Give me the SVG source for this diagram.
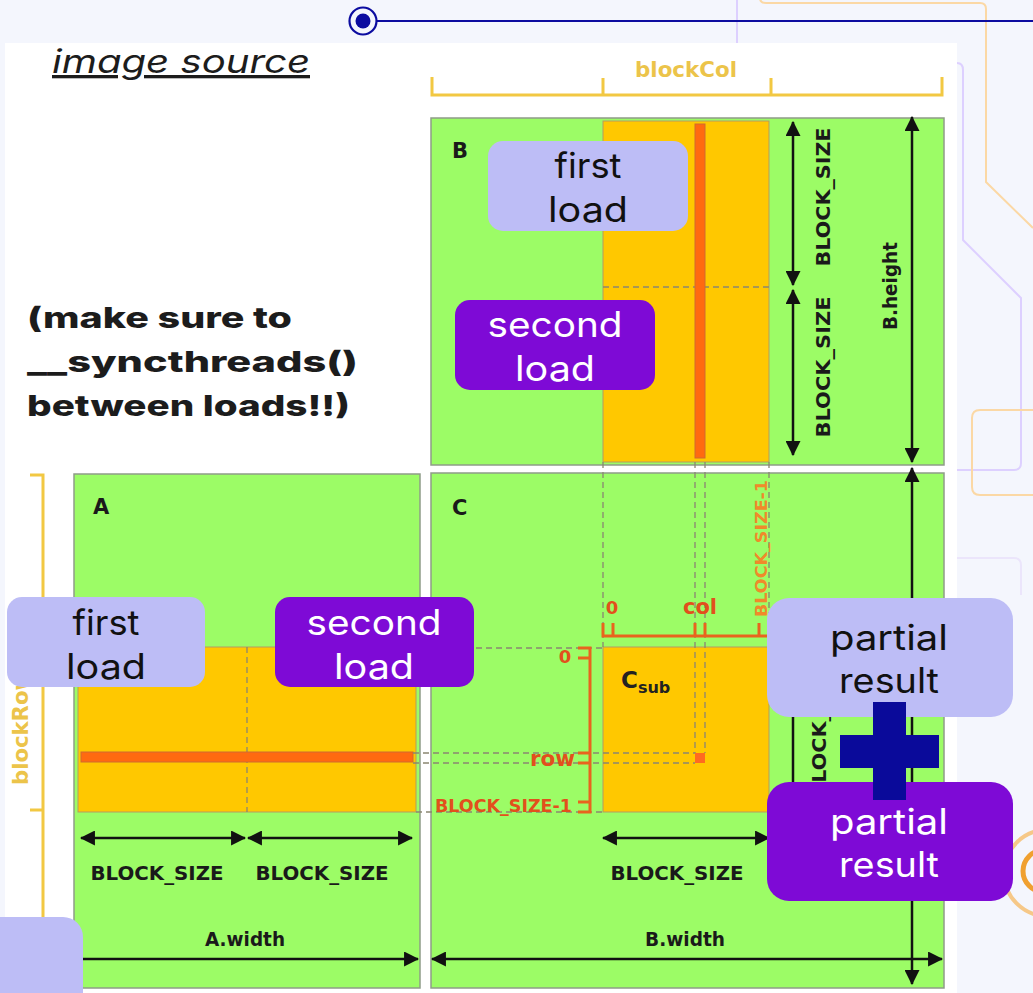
<svg xmlns="http://www.w3.org/2000/svg" width="1033" height="993" viewBox="0 0 1033 993">
  <defs>
    <style>
      .mat { fill: #9cfc66; stroke: #8f9c88; stroke-width: 1.5; }
      .blk { fill: #ffc800; stroke: #b59a62; stroke-width: 1; }
      .bar { fill: #ff6a10; stroke: #cf6a30; stroke-width: 1; }
      .dash { fill: none; stroke: #8a8672; stroke-width: 1.3; stroke-dasharray: 6 4; }
      .arr { fill: none; stroke: #111; stroke-width: 2.5; marker-start: url(#tip); marker-end: url(#tip); }
      .obr { fill: none; stroke: #e8641e; stroke-width: 3; }
      .ybr { fill: none; stroke: #f2c842; stroke-width: 3; }
      .lbl { font-family: "DejaVu Sans", sans-serif; font-weight: bold; font-size: 19px; fill: #1a1a1a; }
      .mname { font-size: 21px; }
      .olbl { font-family: "DejaVu Sans", sans-serif; font-weight: bold; fill: #e2501c; }
      .ylbl { font-family: "DejaVu Sans", sans-serif; font-weight: bold; font-size: 21px; fill: #ecc44a; }
      .note { font-family: Inter, "Open Sans", sans-serif; font-size: 35px; text-anchor: middle; }
      .light { fill: #bdbdf6; }
      .purple { fill: #7e0ad6; }
      .deco-o { fill: none; stroke: #fbd8a5; stroke-width: 2; }
      .deco-l { fill: none; stroke: #ddd0ff; stroke-width: 2; }
    </style>
    <marker id="tip" viewBox="0 0 14 14" refX="13" refY="7" markerWidth="15" markerHeight="15" orient="auto-start-reverse" markerUnits="userSpaceOnUse">
      <path d="M0,0 L14,7 L0,14 z" fill="#111"/>
    </marker>
  </defs>

  <!-- page background and decorative lines -->
  <rect x="0" y="0" width="1033" height="993" fill="#f4f6fd"/>
  <g id="decoration">
    <line x1="737" y1="0" x2="737" y2="50" class="deco-l"/>
    <path d="M760,-10 L760,-2 Q760,3 766,3 L980,3 Q986,3 986,9 L986,182 L1033,228" class="deco-o"/>
    <path d="M957,63 Q963,63 963,70 L963,240 L1021,298 L1021,463 Q1021,470 1014,470 L957,470" class="deco-l"/>
    <path d="M957,558 L1014,558 Q1021,558 1021,565 L1021,595" fill="none" stroke="#ebe5fb" stroke-width="2"/>
    <path d="M1040,410 L980,410 Q972,410 972,418 L972,487 Q972,495 980,495 L1040,495" class="deco-o"/>
    <circle cx="1047" cy="873" r="43" fill="none" stroke="#f6c888" stroke-width="4"/>
    <circle cx="1044" cy="871" r="21" fill="none" stroke="#f0a030" stroke-width="5"/>
    <line x1="376" y1="21" x2="1033" y2="21" stroke="#0c0ca0" stroke-width="2"/>
    <circle cx="363" cy="21" r="13.5" fill="#f4f6fd" stroke="#0c0ca0" stroke-width="2.2"/>
    <circle cx="363" cy="21" r="7.5" fill="#0c0ca0"/>
  </g>

  <!-- white panel -->
  <rect x="5" y="43" width="952" height="960" fill="#ffffff"/>

  <g id="caption">
    <text x="52" y="73" font-family="Inter, 'Open Sans', sans-serif" font-style="italic" font-size="33" fill="#1c1c1c" text-decoration="underline" textLength="258" lengthAdjust="spacingAndGlyphs">image source</text>
    <g font-family="Inter, 'Open Sans', sans-serif" font-weight="800" font-size="29" fill="#1c1c1c">
      <text x="27" y="328" textLength="265" lengthAdjust="spacingAndGlyphs">(make sure to</text>
      <text x="27" y="372" textLength="331" lengthAdjust="spacingAndGlyphs">__syncthreads()</text>
      <text x="27" y="416" textLength="323" lengthAdjust="spacingAndGlyphs">between loads!!)</text>
    </g>
  </g>

  <!-- block index brackets -->
  <g id="blockCol">
    <path d="M432,77 L432,95 L942,95 L942,77 M603,78 L603,95 M771,78 L771,95" class="ybr"/>
    <text x="686" y="77" class="ylbl" text-anchor="middle" textLength="102" lengthAdjust="spacingAndGlyphs">blockCol</text>
  </g>
  <g id="blockRow">
    <path d="M30,475 L43,475 L43,1000 M30,810 L43,810" class="ybr"/>
    <text transform="translate(28,785) rotate(-90)" class="ylbl" textLength="114" lengthAdjust="spacingAndGlyphs">blockRow</text>
  </g>

  <!-- matrix B -->
  <g id="matrix-B">
    <rect x="431" y="118" width="513" height="347" class="mat"/>
    <rect x="603" y="121" width="166" height="341" class="blk"/>
    <line x1="603" y1="287" x2="769" y2="287" class="dash"/>
    <rect x="695" y="124" width="10" height="334" class="bar"/>
    <text x="452" y="158" class="lbl mname">B</text>
  </g>

  <!-- matrix A -->
  <g id="matrix-A">
    <rect x="74" y="474" width="346" height="514" class="mat"/>
    <rect x="78" y="647" width="338" height="165" class="blk"/>
    <line x1="247" y1="647" x2="247" y2="812" class="dash"/>
    <rect x="81" y="752" width="332" height="10" class="bar"/>
    <text x="93" y="514" class="lbl mname">A</text>
  </g>

  <!-- matrix C -->
  <g id="matrix-C">
    <rect x="431" y="473" width="513" height="515" class="mat"/>
    <rect x="603" y="647" width="166" height="165" class="blk"/>
    <rect x="695" y="753" width="10" height="10" fill="#ff6a20"/>
    <text x="452" y="515" class="lbl mname">C</text>
    <text x="621" y="688" font-family="'DejaVu Sans', sans-serif" font-weight="bold" font-size="23" fill="#222">C<tspan font-size="16" dy="5">sub</tspan></text>
  </g>

  <!-- projections of the tiles across the matrices -->
  <g id="guides">
    <line x1="603" y1="462" x2="603" y2="647" class="dash"/>
    <line x1="695" y1="462" x2="695" y2="753" class="dash"/>
    <line x1="705" y1="462" x2="705" y2="753" class="dash"/>
    <line x1="769" y1="462" x2="769" y2="636" class="dash"/>
    <line x1="416" y1="648" x2="603" y2="648" class="dash"/>
    <line x1="413" y1="753" x2="695" y2="753" class="dash"/>
    <line x1="413" y1="763" x2="695" y2="763" class="dash"/>
    <line x1="416" y1="812" x2="603" y2="812" class="dash"/>
  </g>

  <!-- thread index brackets inside C -->
  <g id="thread-index">
    <path d="M603,623 L603,636 L769,636 L769,623 M613,623 L613,636 M695,623 L695,636 M705,623 L705,636 M759,623 L759,636" class="obr"/>
    <path d="M578,648 L590,648 L590,812 L578,812 M578,658 L590,658 M578,753 L590,753 M578,763 L590,763 M578,802 L590,802" class="obr"/>
    <text x="612" y="614" class="olbl" font-size="18" text-anchor="middle">0</text>
    <text x="683" y="614" class="olbl" font-size="21" textLength="34" lengthAdjust="spacingAndGlyphs">col</text>
    <text transform="translate(767,617) rotate(-90)" class="olbl" font-size="16" style="fill:#f08a2a" textLength="137" lengthAdjust="spacingAndGlyphs">BLOCK_SIZE-1</text>
    <text x="565" y="663" class="olbl" font-size="18" text-anchor="middle">0</text>
    <text x="575" y="766" class="olbl" font-size="21" text-anchor="end" textLength="45" lengthAdjust="spacingAndGlyphs">row</text>
    <text x="435" y="812" class="olbl" font-size="17" textLength="137" lengthAdjust="spacingAndGlyphs">BLOCK_SIZE-1</text>
  </g>

  <!-- dimension arrows -->
  <g id="dimension-arrows">
    <line x1="793" y1="122" x2="793" y2="285" class="arr"/>
    <line x1="793" y1="290" x2="793" y2="455" class="arr"/>
    <line x1="912" y1="117" x2="912" y2="462" class="arr"/>
    <line x1="912" y1="468" x2="912" y2="984" class="arr"/>
    <line x1="793" y1="647" x2="793" y2="812" class="arr"/>
    <line x1="81" y1="838" x2="245" y2="838" class="arr"/>
    <line x1="248" y1="838" x2="412" y2="838" class="arr"/>
    <line x1="603" y1="838" x2="769" y2="838" class="arr"/>
    <line x1="68" y1="959" x2="418" y2="959" class="arr"/>
    <line x1="432" y1="959" x2="942" y2="959" class="arr"/>
  </g>

  <g id="dimension-labels" class="lbl">
    <text transform="translate(830,197) rotate(-90)" text-anchor="middle" textLength="139" lengthAdjust="spacingAndGlyphs">BLOCK_SIZE</text>
    <text transform="translate(830,367) rotate(-90)" text-anchor="middle" textLength="141" lengthAdjust="spacingAndGlyphs">BLOCK_SIZE</text>
    <text transform="translate(897,286) rotate(-90)" text-anchor="middle" textLength="88" lengthAdjust="spacingAndGlyphs">B.height</text>
    <text transform="translate(826,729) rotate(-90)" text-anchor="middle" textLength="139" lengthAdjust="spacingAndGlyphs">BLOCK_SIZE</text>
    <text x="157" y="880" text-anchor="middle" textLength="133" lengthAdjust="spacingAndGlyphs">BLOCK_SIZE</text>
    <text x="322" y="880" text-anchor="middle" textLength="133" lengthAdjust="spacingAndGlyphs">BLOCK_SIZE</text>
    <text x="677" y="880" text-anchor="middle" textLength="133" lengthAdjust="spacingAndGlyphs">BLOCK_SIZE</text>
    <text x="245" y="946" text-anchor="middle" textLength="80" lengthAdjust="spacingAndGlyphs">A.width</text>
    <text x="685" y="946" text-anchor="middle" textLength="80" lengthAdjust="spacingAndGlyphs">B.width</text>
  </g>

  <!-- callout boxes -->
  <g id="load-B-first">
    <rect x="488" y="141" width="200" height="90" rx="15" class="light"/>
    <text class="note" fill="#111"><tspan x="588" y="178" textLength="67" lengthAdjust="spacingAndGlyphs">first</tspan><tspan x="588" y="222" textLength="80" lengthAdjust="spacingAndGlyphs">load</tspan></text>
  </g>
  <g id="load-B-second">
    <rect x="455" y="300" width="200" height="90" rx="15" class="purple"/>
    <text class="note" fill="#fff"><tspan x="555" y="337" textLength="135" lengthAdjust="spacingAndGlyphs">second</tspan><tspan x="555" y="381" textLength="80" lengthAdjust="spacingAndGlyphs">load</tspan></text>
  </g>
  <g id="load-A-first">
    <rect x="7" y="597" width="198" height="90" rx="15" class="light"/>
    <text class="note" fill="#111"><tspan x="106" y="635" textLength="67" lengthAdjust="spacingAndGlyphs">first</tspan><tspan x="106" y="679" textLength="80" lengthAdjust="spacingAndGlyphs">load</tspan></text>
  </g>
  <g id="load-A-second">
    <rect x="275" y="597" width="199" height="90" rx="15" class="purple"/>
    <text class="note" fill="#fff"><tspan x="374" y="635" textLength="135" lengthAdjust="spacingAndGlyphs">second</tspan><tspan x="374" y="679" textLength="80" lengthAdjust="spacingAndGlyphs">load</tspan></text>
  </g>
  <g id="partial-first">
    <rect x="767" y="598" width="246" height="119" rx="22" class="light"/>
    <text class="note" fill="#111"><tspan x="889" y="650" textLength="118" lengthAdjust="spacingAndGlyphs">partial</tspan><tspan x="889" y="693" textLength="100" lengthAdjust="spacingAndGlyphs">result</tspan></text>
  </g>
  <g id="partial-second">
    <rect x="767" y="782" width="246" height="119" rx="22" class="purple"/>
    <text class="note" fill="#fff"><tspan x="889" y="834" textLength="118" lengthAdjust="spacingAndGlyphs">partial</tspan><tspan x="889" y="877" textLength="100" lengthAdjust="spacingAndGlyphs">result</tspan></text>
  </g>
  <g id="plus">
    <rect x="873" y="702" width="33" height="98" fill="#0a0a9a"/>
    <rect x="840" y="735" width="99" height="33" fill="#0a0a9a"/>
  </g>
  <g id="corner-box">
    <rect x="-30" y="917" width="113" height="110" rx="20" class="light"/>
  </g>
</svg>
